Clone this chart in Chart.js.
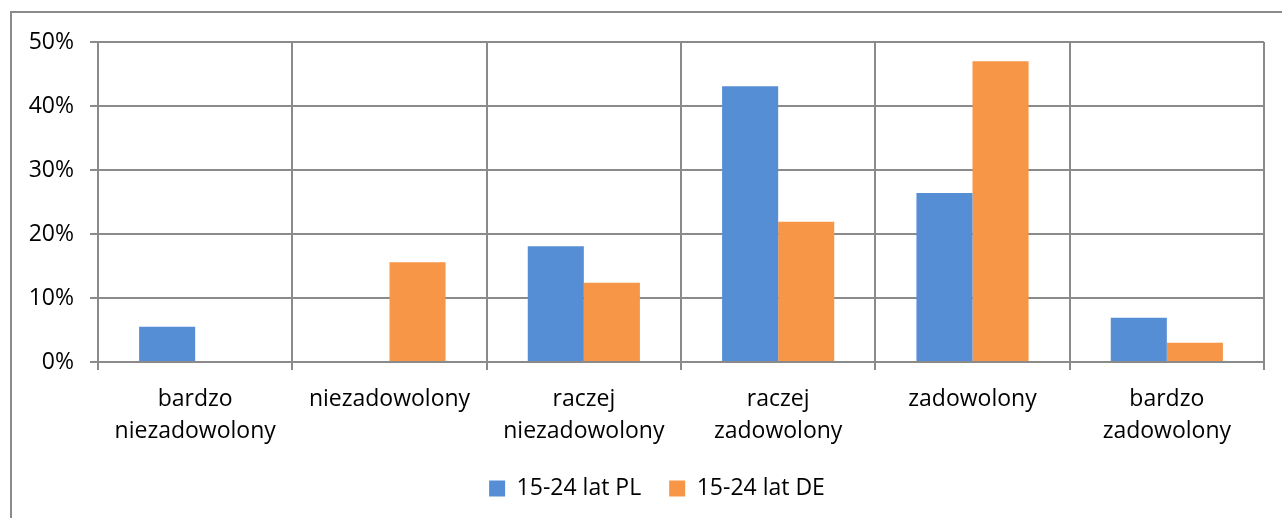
<!DOCTYPE html>
<html>
<head>
<meta charset="utf-8">
<script src="https://cdn.jsdelivr.net/npm/chart.js@4.4.1/dist/chart.umd.min.js"></script>
<style>
  html, body { margin: 0; padding: 0; background: #fff; }
  #wrap { position: relative; width: 1282px; height: 518px; overflow: hidden; }
  #frame { position: absolute; left: 10px; top: 11px; width: 1400px; height: 600px;
           border-left: 2px solid #8a8a8a; border-top: 2px solid #8a8a8a; }
  canvas { position: absolute; left: 0; top: 0; }
</style>
</head>
<body>
<div id="wrap">
  <div id="frame"></div>
  <canvas id="chart" width="1282" height="518"></canvas>
</div>
<script>
// Categories and series (percent)
const categories = [
  ['bardzo', 'niezadowolony'],
  'niezadowolony',
  ['raczej', 'niezadowolony'],
  ['raczej', 'zadowolony'],
  'zadowolony',
  ['bardzo', 'zadowolony']
];
const seriesNames = ['15-24 lat PL', '15-24 lat DE'];
const valuesPL = [5.5, 0, 18.1, 43.1, 26.4, 6.9];
const valuesDE = [0, 15.6, 12.4, 21.9, 47.0, 3.0];
const yTicks = [0, 10, 20, 30, 40, 50];

const gridColor = '#8a8a8a';
const font = { family: '"Open Sans", sans-serif', size: 23 };

// the legend in the original sits a bit right of the canvas centre
const legendShift = {
  id: 'legendShift',
  afterLayout(chart) {
    chart.legend.left += 25;
    chart.legend.right += 25;
  }
};

const ctx = document.getElementById('chart').getContext('2d');
const chart = new Chart(ctx, {
  type: 'bar',
  data: {
    labels: categories,
    datasets: [
      { label: seriesNames[0], data: valuesPL, backgroundColor: '#558ed5' },
      { label: seriesNames[1], data: valuesDE, backgroundColor: '#f79646' }
    ]
  },
  options: {
    responsive: false,
    animation: false,
    barPercentage: 1,
    categoryPercentage: 0.577,
    layout: { padding: { top: 42, right: 18, left: 0, bottom: 8 } },
    plugins: {
      tooltip: { enabled: false },
      legend: {
        position: 'bottom',
        labels: {
          color: '#000',
          font: font,
          boxWidth: 16,
          boxHeight: 16,
          padding: 28
        }
      }
    },
    scales: {
      x: {
        grid: { color: gridColor, lineWidth: 2, tickLength: 8, offset: true },
        border: { color: gridColor, width: 2 },
        ticks: { color: '#000', font: { ...font, lineHeight: 1.39 }, padding: 13, maxRotation: 0 },
        afterFit: function (scale) { scale.height = 87; }
      },
      y: {
        min: 0,
        max: 50,
        afterBuildTicks: function (scale) { scale.ticks = yTicks.map(v => ({ value: v })); },
        grid: { color: gridColor, lineWidth: 2, tickLength: 8 },
        border: { color: gridColor, width: 2 },
        ticks: { color: '#000', font: font, padding: 16, callback: v => v + '%' },
        afterFit: function (scale) { scale.width = 98; }
      }
    }
  },
  plugins: [legendShift]
});
</script>
</body>
</html>
